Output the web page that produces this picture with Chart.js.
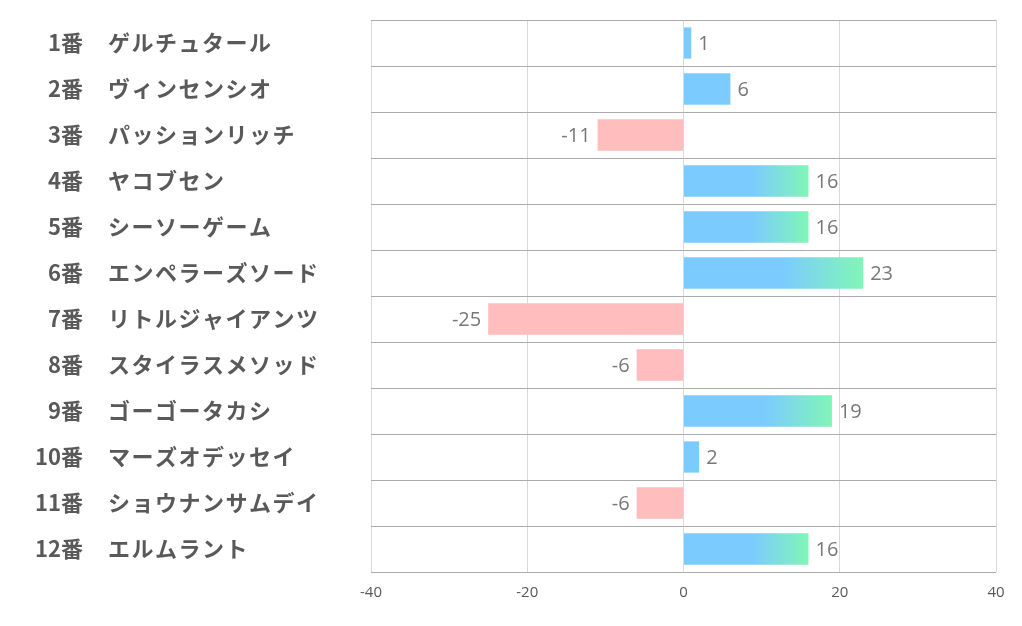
<!DOCTYPE html>
<html>
<head>
<meta charset="utf-8">
<script src="https://cdn.jsdelivr.net/npm/chart.js@4/dist/chart.umd.min.js"></script>
<style>
  html, body { margin:0; padding:0; background:#fff; }
  #wrap { width:1022px; height:626px; }
</style>
</head>
<body>
<div id="wrap"><canvas id="c" width="1022" height="626"></canvas></div>
<script>
// 馬番・馬名・指数
const nums   = ['1番','2番','3番','4番','5番','6番','7番','8番','9番','10番','11番','12番'];
const names  = ['ゲルチュタール','ヴィンセンシオ','パッションリッチ','ヤコブセン','シーソーゲーム',
                'エンペラーズソード','リトルジャイアンツ','スタイラスメソッド','ゴーゴータカシ',
                'マーズオデッセイ','ショウナンサムデイ','エルムラント'];
const values = [1, 6, -11, 16, 16, 23, -25, -6, 19, 2, -6, 16];
const xTicks = [-40, -20, 0, 20, 40];

const BLUE = '#7ccbff', GREEN = '#80f6b6', PINK = '#ffbdbd';

function barColor(ctx) {
  const v = values[ctx.dataIndex];
  if (v < 0) return PINK;
  if (v < 10) return BLUE;
  const x = ctx.chart.scales && ctx.chart.scales.x;
  if (!x || !ctx.chart.chartArea) return BLUE;
  const x0 = x.getPixelForValue(0), x1 = x.getPixelForValue(v);
  const g = ctx.chart.ctx.createLinearGradient(x0, 0, x1, 0);
  g.addColorStop(0, BLUE);
  g.addColorStop(0.55, BLUE);
  g.addColorStop(1, GREEN);
  return g;
}

// 左側ラベル（番号は右揃え、馬名は左揃え）
const sideLabels = {
  id: 'sideLabels',
  afterDraw(chart) {
    const { ctx, scales: { y } } = chart;
    ctx.save();
    ctx.font = "bold 22px 'Noto Sans CJK JP'";
    ctx.fillStyle = '#595959';
    ctx.textBaseline = 'middle';
    nums.forEach((n, i) => {
      const py = y.getPixelForValue(i);
      ctx.letterSpacing = '0px';
      ctx.textAlign = 'right';
      ctx.fillText(n, 83, py);
      ctx.letterSpacing = '1.5px';
      ctx.textAlign = 'left';
      ctx.fillText(names[i], 108, py);
    });
    ctx.restore();
  }
};

// バー端の数値
const valueLabels = {
  id: 'valueLabels',
  afterDatasetsDraw(chart) {
    const { ctx } = chart;
    const meta = chart.getDatasetMeta(0);
    ctx.save();
    ctx.font = "20px 'Open Sans'";
    ctx.fillStyle = '#787878';
    ctx.textBaseline = 'middle';
    meta.data.forEach((bar, i) => {
      const v = values[i];
      if (v >= 0) { ctx.textAlign = 'left'; ctx.fillText(v, bar.x + 7, bar.y + 1); }
      else { ctx.textAlign = 'right'; ctx.fillText(v, bar.x - 7, bar.y + 1); }
    });
    ctx.restore();
  }
};

new Chart(document.getElementById('c'), {
  type: 'bar',
  data: {
    labels: nums.map((n, i) => n + ' ' + names[i]),
    datasets: [{
      data: values,
      backgroundColor: barColor,
      borderWidth: 0,
      categoryPercentage: 1,
      barPercentage: 0.68
    }]
  },
  options: {
    indexAxis: 'y',
    responsive: false,
    animation: false,
    layout: { padding: { top: 20, right: 26, left: 0, bottom: 0 } },
    plugins: { legend: { display: false }, tooltip: { enabled: false } },
    scales: {
      x: {
        min: -40, max: 40,
        afterBuildTicks: s => { s.ticks = xTicks.map(v => ({ value: v })); },
        grid: { color: '#d9d9d9', lineWidth: 1, drawTicks: false },
        border: { display: false },
        ticks: { color: '#595959', font: { family: "'Open Sans'", size: 15 }, padding: 12 },
        afterFit: s => { s.height = 54; }
      },
      y: {
        grid: { color: '#ababab', lineWidth: 1, drawTicks: false, offset: true },
        border: { display: false },
        ticks: { display: false },
        afterFit: s => { s.width = 371; }
      }
    }
  },
  plugins: [sideLabels, valueLabels]
});
</script>
</body>
</html>
